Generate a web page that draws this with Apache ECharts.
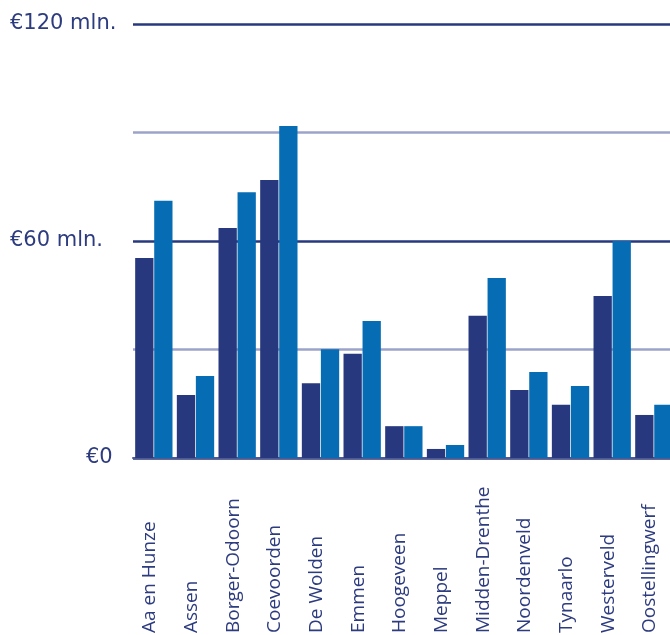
<!DOCTYPE html>
<html>
<head>
<meta charset="utf-8">
<script src="https://cdn.jsdelivr.net/npm/echarts@6/dist/echarts.min.js"></script>
<style>
html,body{margin:0;padding:0;overflow:hidden;background:#fff;}
#chart{width:676px;height:635px;}
</style>
</head>
<body>
<div id="chart"></div>
<script>
const categories = ["Aa en Hunze","Assen","Borger-Odoorn","Coevoorden","De Wolden","Emmen","Hoogeveen","Meppel","Midden-Drenthe","Noordenveld","Tynaarlo","Westerveld","Oostellingwerf"];
const seriesA = [55.3, 17.4, 63.6, 76.9, 20.7, 28.8, 8.8, 2.5, 39.3, 18.8, 14.7, 44.8, 11.9];
const seriesB = [71.1, 22.7, 73.5, 91.8, 30.1, 37.9, 8.8, 3.6, 49.8, 23.8, 19.9, 60.0, 14.7];
const yTickLabels = {0: "€0", 60: "€60 mln.", 120: "€120 mln."};

const navy = "#27387e";
const blue = "#066db5";
const textColor = "#2d3b7f";

const chart = echarts.init(document.getElementById("chart"), null, {renderer: "canvas"});
chart.setOption({
  animation: false,
  grid: {left: 133, top: 24, width: 541.7, bottom: 177, containLabel: false, outerBoundsMode: "none"},
  xAxis: {
    type: "category",
    data: categories,
    axisLine: {show: true, lineStyle: {color: "#4f5a93", width: 2}},
    axisTick: {show: false},
    splitLine: {show: false},
    axisLabel: {
      interval: 0,
      rotate: 90,
      align: "left",
      verticalAlign: "bottom",
      lineHeight: 8,
      margin: 175,
      color: textColor,
      fontFamily: "Open Sans",
      fontSize: 19
    }
  },
  yAxis: {
    type: "value",
    min: 0,
    max: 120,
    interval: 30,
    axisLine: {show: false},
    axisTick: {show: false},
    splitLine: {show: true, lineStyle: {color: [navy, "#9ca3c9", navy, "#9ca3c9", navy], width: 2.5}},
    axisLabel: {
      align: "left",
      margin: 123,
      color: textColor,
      fontFamily: "DejaVu Sans",
      fontSize: 21,
      formatter: function (v) {
        if (v === 0) return "{z|" + yTickLabels[0] + "}";
        return yTickLabels[v] !== undefined ? yTickLabels[v] : "";
      },
      rich: {
        z: {padding: [0, 0, 0, 76], color: textColor, fontFamily: "DejaVu Sans", fontSize: 21}
      }
    }
  },
  series: [
    {type: "bar", data: seriesA, barWidth: 18.3, barGap: "4%", itemStyle: {color: navy}},
    {type: "bar", data: seriesB, barWidth: 18.3, barGap: "4%", itemStyle: {color: blue}}
  ]
});
</script>
</body>
</html>
